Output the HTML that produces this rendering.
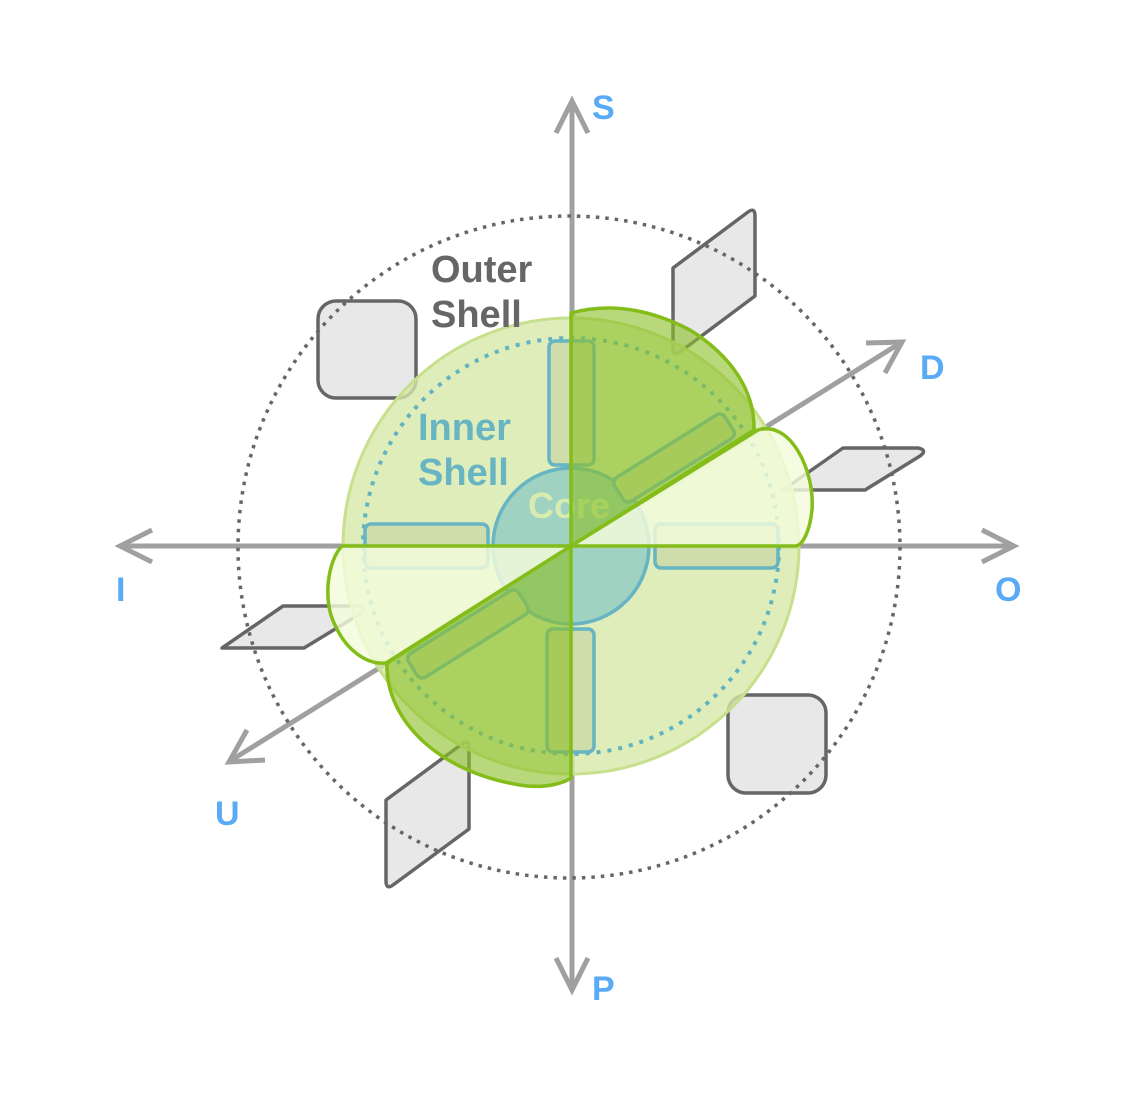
<!DOCTYPE html>
<html><head><meta charset="utf-8"><style>
html,body{margin:0;padding:0;background:#fff;}
svg{display:block;}
text{font-family:"Liberation Sans",sans-serif;font-weight:bold;}
</style></head><body>
<svg width="1128" height="1107" viewBox="0 0 1128 1107" xmlns="http://www.w3.org/2000/svg">
<g stroke="#a0a0a0" stroke-width="5" fill="none" stroke-linecap="butt" stroke-linejoin="miter">
<line x1="572" y1="103" x2="572" y2="988"/>
<polyline points="556,133 572,101 588,133"/>
<polyline points="556,958 572,990 588,958"/>
<line x1="122" y1="546" x2="1012" y2="546"/>
<polyline points="152,530 120,546 152,562"/>
<polyline points="982,530 1014,546 982,562"/>
<line x1="230" y1="761" x2="902" y2="342"/>
<polyline points="866,343 902,342 885,373"/>
<polyline points="247,730 229,762 265,760"/>
</g>
<g stroke="#666" stroke-width="3.5" fill="#e8e8e8" stroke-linejoin="round">
<rect x="318" y="301" width="98" height="97" rx="18"/>
<rect x="728" y="695" width="98" height="98" rx="18"/>
<path d="M673,268 L748,212 Q755,207 755,216 L755,296 L680,352 Q673,357 673,348 Z"/>
<path d="M386,800 L462,744 Q469,739 469,748 L469,829 L393,885 Q386,890 386,881 Z"/>
<path d="M783,490 L843,448 L918,448 Q928,450 920,456 L865,490 Z"/>
<path d="M222,648 L283,606 L358,606 Q368,608 360,614 L304,648 Z"/>
</g>
<circle cx="569" cy="547" r="331" fill="none" stroke="#666" stroke-width="3.5" stroke-dasharray="3.5 6"/>
<circle cx="571" cy="546" r="228" fill="#d6e9a8" fill-opacity="0.8" stroke="#c7e08e" stroke-width="3"/>
<circle cx="571" cy="546" r="208" fill="none" stroke="#62b3c2" stroke-width="4" stroke-dasharray="4 7"/>
<circle cx="571" cy="546" r="78" fill="#9fd2c0" stroke="#67b4c2" stroke-width="3.5"/>
<g stroke="#67b4c2" stroke-width="3.5" fill="#cfdcab">
<rect x="549" y="341" width="45" height="124" rx="6"/>
<rect x="547" y="629" width="47" height="123" rx="6"/>
<rect x="365" y="524" width="123" height="44" rx="6"/>
<rect x="655" y="524" width="123" height="44" rx="6"/>
<g transform="rotate(-32 571 546)">
<rect x="640" y="512" width="130" height="28" rx="6"/>
<rect x="372" y="552" width="130" height="28" rx="6"/>
</g>
</g>
<text x="528" y="518" font-size="36" fill="#d8ecb0">Core</text>
<g fill="#8dc02a" fill-opacity="0.62" stroke="#84bd1a" stroke-width="3.5" stroke-linejoin="round">
<path d="M571,546 L571,313 C600,305 640,304 690,330 C730,355 755,390 754,430 Z"/>
<path d="M571,546 L387,663 C385,720 440,775 527,786 C550,788 565,782 571,778 Z"/>
</g>
<g fill="#f4fbdc" fill-opacity="0.82" stroke="#84bd1a" stroke-width="3.5" stroke-linejoin="round">
<path d="M571,546 L758,430 C790,420 815,470 812,510 C810,530 803,546 795,546 Z"/>
<path d="M571,546 L342,546 C328,560 322,600 335,625 C345,648 365,665 386,663 Z"/>
</g>
<text x="431" y="282" font-size="38" fill="#666">Outer</text>
<text x="431" y="327" font-size="38" fill="#666">Shell</text>
<text x="418" y="440" font-size="38" fill="#67b4c2">Inner</text>
<text x="418" y="485" font-size="38" fill="#67b4c2">Shell</text>
<g font-size="34" fill="#5aabf5">
<text x="592" y="119">S</text>
<text x="920" y="379">D</text>
<text x="995" y="601">O</text>
<text x="116" y="601">I</text>
<text x="215" y="825">U</text>
<text x="592" y="1000">P</text>
</g>
</svg>
</body></html>
